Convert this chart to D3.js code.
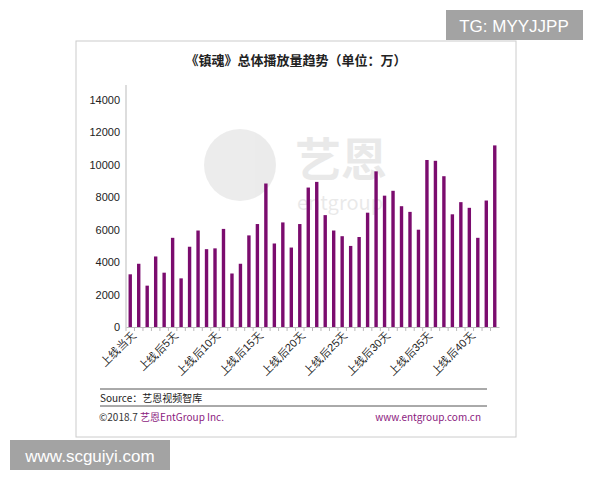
<!DOCTYPE html>
<html><head><meta charset="utf-8">
<script src="https://cdn.jsdelivr.net/npm/d3@7"></script>
<style>body{margin:0;background:#fff;font-family:"Noto Sans CJK SC","Noto Sans",sans-serif;}</style>
</head><body>
<script>
var values = [3250,3900,2550,4350,3350,5500,3000,4950,5950,4800,4850,6050,3300,3900,5650,6350,8850,5150,6450,4900,6350,8600,8950,6900,5950,5600,5000,5550,7050,9600,8100,8400,7450,7100,6000,10300,10250,9300,6950,7700,7350,5500,7800,11200];
var categories = values.map(function(d,i){return i==0 ? '上线当天' : '上线后'+i+'天';});
var yTicks = [0,2000,4000,6000,8000,10000,12000,14000];

var svg = d3.select('body').append('svg').attr('width',600).attr('height',480);
svg.append('rect').attr('x',76).attr('y',41).attr('width',440).attr('height',396)
  .attr('fill','#fff').attr('stroke','#ccc');

// watermark
var wm = svg.append('g').attr('opacity',0.12);
wm.append('circle').attr('cx',240).attr('cy',165).attr('r',36).attr('fill','#666');
wm.append('text').attr('x',295).attr('y',176).attr('font-size',46).attr('font-weight','bold').attr('fill','#555').text('艺恩');
wm.append('text').attr('x',297).attr('y',210).attr('font-size',20).attr('fill','#555').text('entgroup');

svg.append('text').attr('x',296).attr('y',65).attr('text-anchor','middle')
  .attr('font-size',13).attr('font-weight','bold').attr('fill','#222')
  .text('《镇魂》总体播放量趋势（单位：万）');

var x = d3.scaleBand().domain(categories).range([126,499]).paddingInner(0.6).paddingOuter(0.3);
var y = d3.scaleLinear().domain([0,14000]).range([327,100]);

svg.selectAll('.bar').data(values).enter().append('rect')
  .attr('x',function(d,i){return x(categories[i]);})
  .attr('y',function(d){return y(d);})
  .attr('width',x.bandwidth())
  .attr('height',function(d){return y(0)-y(d);})
  .attr('fill','#7b0c6e');

var ya = svg.append('g').attr('transform','translate(126,0)')
  .call(d3.axisLeft(y).tickValues(yTicks).tickFormat(d3.format('d')).tickSize(0).tickPadding(6));
ya.select('.domain').attr('stroke','#bbb').attr('d','M0,85V327');
ya.selectAll('text').attr('font-size',11).attr('fill','#222').attr('font-family','Liberation Sans,sans-serif');

var xa = svg.append('g').attr('transform','translate(0,327)')
  .call(d3.axisBottom(x).tickValues(categories.filter(function(d,i){return i%5==0;})).tickSize(0).tickPadding(4));
xa.select('.domain').attr('stroke','#bbb');
xa.selectAll('text').attr('font-size',11).attr('fill','#222')
  .attr('text-anchor','end').attr('transform','rotate(-45)').attr('dx','-2').attr('dy','0.6em');
svg.selectAll('.tk').data(categories).enter().append('line')
  .attr('x1',function(d){return x(d)-x.step()*0.3;}).attr('x2',function(d){return x(d)-x.step()*0.3;})
  .attr('y1',327).attr('y2',331).attr('stroke','#bbb');

svg.append('line').attr('x1',100).attr('x2',487).attr('y1',389).attr('y2',389).attr('stroke','#555');
svg.append('line').attr('x1',100).attr('x2',487).attr('y1',406).attr('y2',406).attr('stroke','#555');
svg.append('text').attr('x',100).attr('y',402).attr('font-size',10).attr('fill','#222').text('Source：艺恩视频智库');
svg.append('text').attr('x',99).attr('y',421).attr('font-size',10).attr('fill','#333')
  .html('©2018.7 <tspan fill="#8b1a7e">艺恩EntGroup Inc.</tspan>');
svg.append('text').attr('x',481).attr('y',421).attr('text-anchor','end').attr('font-size',10).attr('fill','#8b1a7e').text('www.entgroup.com.cn');

svg.append('rect').attr('x',446).attr('y',10).attr('width',137).attr('height',30).attr('fill','#a3a3a3');
svg.append('text').attr('x',514).attr('y',32).attr('text-anchor','middle').attr('font-size',17).attr('fill','#fff').attr('font-family','Liberation Sans,sans-serif').text('TG: MYYJJPP');
svg.append('rect').attr('x',10).attr('y',440).attr('width',160).attr('height',30).attr('fill','#a3a3a3');
svg.append('text').attr('x',90).attr('y',462).attr('text-anchor','middle').attr('font-size',17).attr('fill','#fff').attr('font-family','Liberation Sans,sans-serif').text('www.scguiyi.com');
</script>
</body></html>
